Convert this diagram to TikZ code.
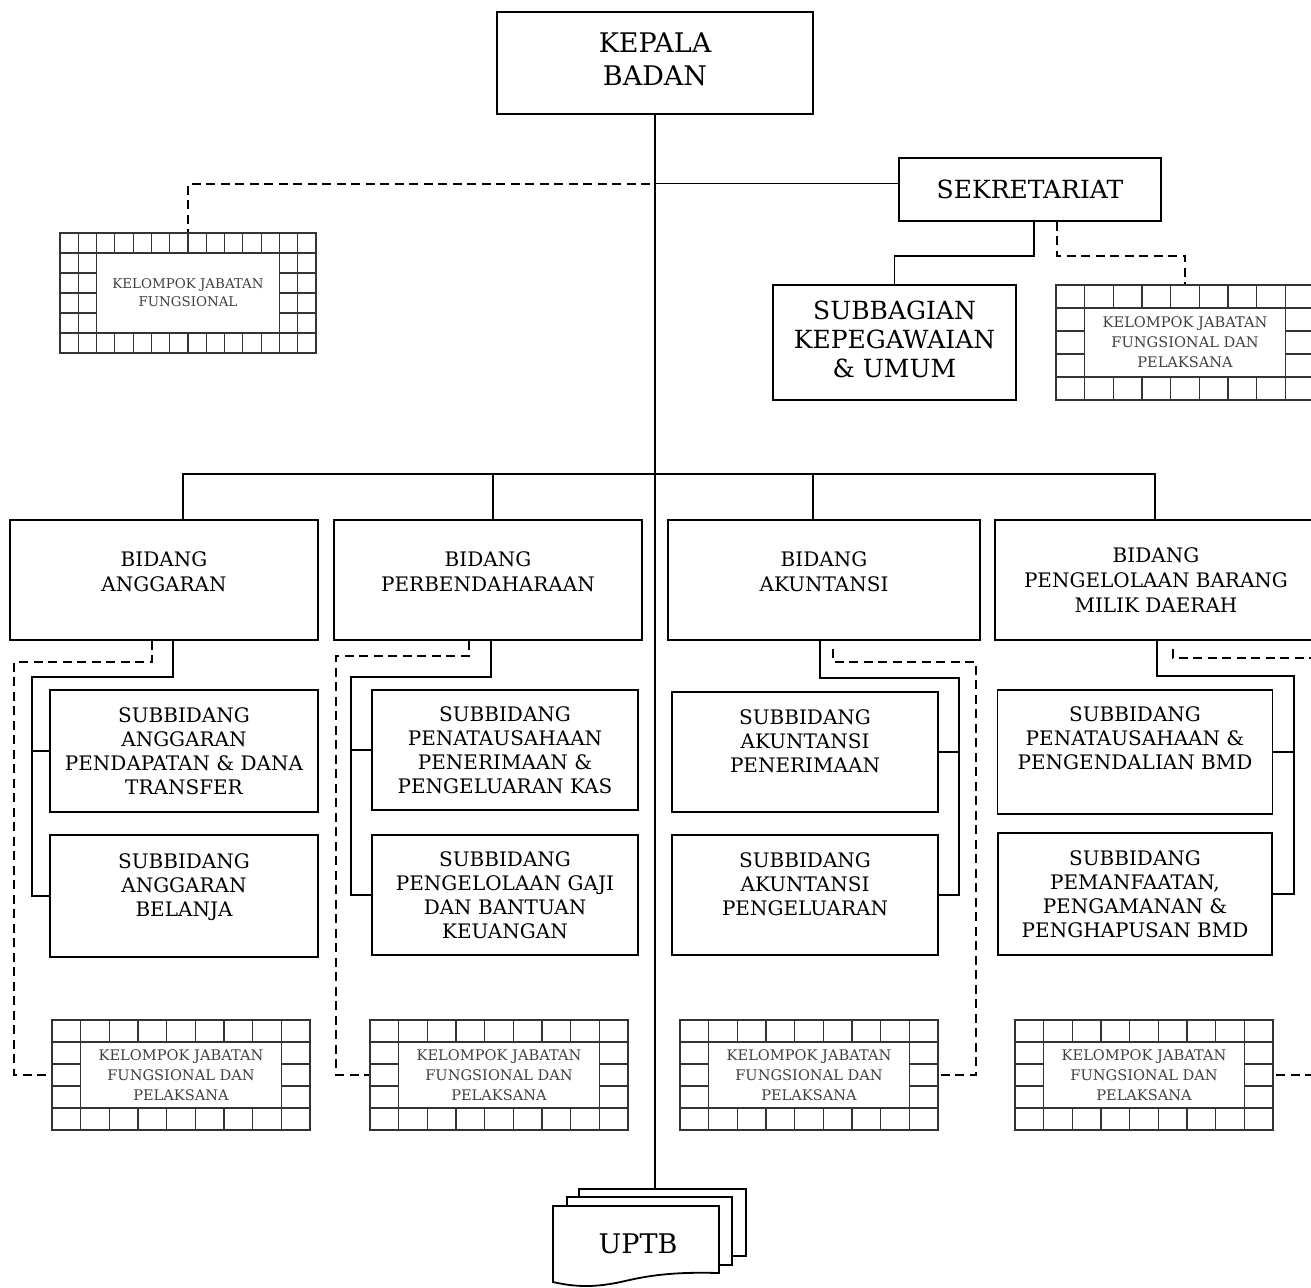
\documentclass[tikz,border=0pt]{standalone}
\usepackage{fontspec}
\setmainfont{DejaVu Serif}
\usetikzlibrary{calc}

\tikzset{kisi/.style n args={3}{path picture={
    \path (path picture bounding box.north west) coordinate (gnw)
          (path picture bounding box.south east) coordinate (gse);
    \foreach \i in {1,...,#1}
        \draw[garis] ($(gnw)!\i/#1!(gse |- gnw)$) -- ($(gnw |- gse)!\i/#1!(gse)$);
    \foreach \j in {1,...,#2}
        \draw[garis] ($(gnw)!\j/#2!(gnw |- gse)$) -- ($(gse |- gnw)!\j/#2!(gse)$);
    \coordinate (ga) at ($(gnw)!#3/#1!(gse |- gnw)$);
    \coordinate (gb) at ($(gnw)!1/#2!(gnw |- gse)$);
    \coordinate (gc) at ($(gse)!#3/#1!(gnw |- gse)$);
    \coordinate (gd) at ($(gse)!1/#2!(gse |- gnw)$);
    \filldraw[garis, fill=white] (ga |- gb) rectangle (gc |- gd);
}}}

\begin{document}
\begin{tikzpicture}[x=0.5pt, y=-0.5pt,
                    line width=0.9pt,
                    font=\fontsize{10}{12.5}\selectfont,
                    atas/.style={text depth=#1},
                    ]
    \tikzstyle{kotak}=[draw, fill=white, align=center, inner sep=2pt]
    \tikzstyle{pimpinan}=[kotak, font=\fontsize{13.5}{16.5}\selectfont]
    \tikzstyle{sekre}=[kotak, font=\fontsize{12.5}{14.5}\selectfont]
    \tikzstyle{bidang}=[kotak, minimum height=60pt]
    \tikzstyle{subbid}=[kotak, minimum height=61pt, font=\fontsize{10}{12}\selectfont]
    \tikzstyle{garis}=[black!80, line width=0.6pt]
    \tikzstyle{jabfung}=[draw=black!80, line width=0.6pt, fill=white, align=center, text=black!75, inner sep=0pt, font=\fontsize{7.3}{10}\selectfont]
    \tikzstyle{jabbawah}=[jabfung, kisi={9}{5}{1}, minimum width=129pt, minimum height=55pt]
    \tikzstyle{putus}=[line width=1pt, dash pattern=on 4.5pt off 2.75pt]
    \tikzstyle{halaman}=[draw, fill=white]

    \useasboundingbox (0,0) rectangle (1311,1287);
    \clip (0,0) rectangle (1311,1287);

    \node[pimpinan, minimum width=158pt, minimum height=51pt, atas=4pt] (kepala) at (655,63) {KEPALA\\BADAN};
    \node[sekre, minimum width=131pt, minimum height=31.5pt] (sekretariat) at (1030,189.5) {SEKRETARIAT};
    \node[sekre, minimum width=121.5pt, minimum height=57.5pt, atas=3pt] (subbagian) at (894.5,342.5) {SUBBAGIAN\\KEPEGAWAIAN\\\& UMUM};
    \node[jabbawah, minimum height=57.5pt] (kjfsek) at (1185,342.5) {KELOMPOK JABATAN\\FUNGSIONAL DAN\\PELAKSANA};
    \node[jabfung, kisi={14}{6}{2}, minimum width=128pt, minimum height=60pt, font=\fontsize{6.7}{9}\selectfont] (kjfkiri) at (188,293) {KELOMPOK JABATAN\\FUNGSIONAL};

    \node[bidang, minimum width=154pt, atas=8pt] (ang) at (164,580) {BIDANG\\ANGGARAN};
    \node[bidang, minimum width=154pt, atas=8pt] (perb) at (488,580) {BIDANG\\PERBENDAHARAAN};
    \node[bidang, minimum width=156pt, atas=8pt] (akun) at (824,580) {BIDANG\\AKUNTANSI};
    \node[bidang, minimum width=161pt] (pbmd) at (1156,580) {BIDANG\\PENGELOLAAN BARANG\\MILIK DAERAH};

    \node[subbid, minimum width=134pt] (angsub1) at (184,751) {SUBBIDANG\\ANGGARAN\\PENDAPATAN \& DANA\\TRANSFER};
    \node[subbid, minimum width=134pt, atas=11pt] (angsub2) at (184,896) {SUBBIDANG\\ANGGARAN\\BELANJA};
    \node[subbid, minimum width=133pt, minimum height=60pt] (perbsub1) at (505,750) {SUBBIDANG\\PENATAUSAHAAN\\PENERIMAAN \&\\PENGELUARAN KAS};
    \node[subbid, minimum width=133pt, minimum height=60pt] (perbsub2) at (505,895) {SUBBIDANG\\PENGELOLAAN GAJI\\DAN BANTUAN\\KEUANGAN};
    \node[subbid, minimum width=133pt, minimum height=60pt, atas=11pt] (akunsub1) at (805,752) {SUBBIDANG\\AKUNTANSI\\PENERIMAAN};
    \node[subbid, minimum width=133pt, minimum height=60pt, atas=11pt] (akunsub2) at (805,895) {SUBBIDANG\\AKUNTANSI\\PENGELUARAN};
    \node[subbid, minimum width=137.5pt, minimum height=62pt, atas=14pt] (pbmdsub1) at (1135,752) {SUBBIDANG\\PENATAUSAHAAN \&\\PENGENDALIAN BMD};
    \node[subbid, minimum width=137pt] (pbmdsub2) at (1135,894) {SUBBIDANG\\PEMANFAATAN,\\PENGAMANAN \&\\PENGHAPUSAN BMD};

    \foreach \n/\x in {kjfa/181, kjfb/499, kjfc/809, kjfd/1144}
        \node[jabbawah] (\n) at (\x,1075) {KELOMPOK JABATAN\\FUNGSIONAL DAN\\PELAKSANA};

    \node[halaman, minimum width=83.5pt, minimum height=33.5pt] (uptb3) at (662.5,1222.5) {};
    \node[halaman, minimum width=82.5pt, minimum height=34pt] (uptb2) at (649.5,1231) {};
    \draw[fill=white] (553,1206) -- (719,1206) -- (719,1273)
        .. controls (680,1272) and (655,1274) .. (625,1281)
        .. controls (595,1288) and (575,1287) .. (553,1282) -- cycle;
    \node[font=\fontsize{13.5}{16}\selectfont] (uptb) at (638,1244) {UPTB};

    \draw (kepala.south) -- (kepala.south |- uptb3.north);
    \draw ([yshift=3pt]sekretariat.west) -- ([yshift=3pt]sekretariat.west -| kepala.south);
    \draw[putus] ([xshift=-2.5pt, yshift=3pt]sekretariat.west -| kepala.south) -| (kjfkiri.north);
    \draw ([xshift=2pt]sekretariat.south) -- ++(0,34) -| (subbagian.north);
    \draw[putus] ([xshift=13.5pt]sekretariat.south) -- ++(0,34) -| (kjfsek.north);

    \draw ([xshift=9.5pt]ang.north) -- ++(0,-45) -| ([xshift=-0.5pt]pbmd.north);
    \draw ([xshift=2.5pt]perb.north) -- ++(0,-45);
    \draw ([xshift=-5.5pt]akun.north) -- ++(0,-45);

    \draw ([xshift=4.5pt]ang.south) -- ++(0,36) -| ([xshift=-8.5pt]angsub2.west) -- (angsub2.west);
    \draw (angsub1.west) -- ++(-17,0);
    \draw[putus] ([xshift=-6pt]ang.south) -- ++(0,21) -| ([xshift=-18.5pt]kjfa.west) -- (kjfa.west);

    \draw ([xshift=1.5pt]perb.south) -- ++(0,36) -| ([xshift=-10pt]perbsub2.west) -- (perbsub2.west);
    \draw (perbsub1.west) -- ++(-20,0);
    \draw[putus] ([xshift=-9.5pt]perb.south) -- ++(0,15) -| ([xshift=-16.5pt]kjfb.west) -- (kjfb.west);

    \draw ([xshift=-2pt]akun.south) -- ++(0,37) -| ([xshift=10pt]akunsub2.east) -- (akunsub2.east);
    \draw (akunsub1.east) -- ++(20,0);
    \draw[putus] ([xshift=4.5pt]akun.south) ++(0,8) -- ++(0,13) -| ([xshift=18.5pt]kjfc.east) -- (kjfc.east);

    \draw ([xshift=0.5pt]pbmd.south) -- ++(0,35) -| ([xshift=10.5pt]pbmdsub2.east) -- (pbmdsub2.east);
    \draw (pbmdsub1.east) -- ++(20,0);
    \draw[putus] ([xshift=8.5pt]pbmd.south) ++(0,8) -- ++(0,9) -| ([xshift=23.5pt]kjfd.east) -- (kjfd.east);
\end{tikzpicture}
\end{document}
